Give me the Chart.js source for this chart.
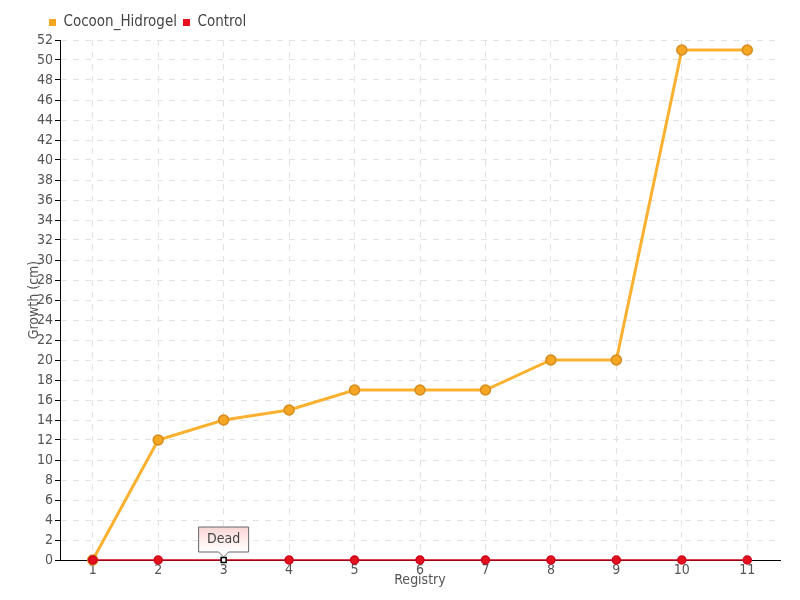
<!DOCTYPE html>
<html>
<head>
<meta charset="utf-8">
<script src="https://cdn.jsdelivr.net/npm/chart.js@4/dist/chart.umd.min.js"></script>
<style>
  html, body { margin: 0; padding: 0; background: #fff; }
  #wrap { width: 800px; height: 600px; }
</style>
</head>
<body>
<div id="wrap"><canvas id="chart"></canvas></div>
<script>
const registry = ['1', '2', '3', '4', '5', '6', '7', '8', '9', '10', '11'];
const cocoonHidrogel = [0, 12, 14, 15, 17, 17, 17, 20, 20, 51, 51];
const control = [0, 0, 0, 0, 0, 0, 0, 0, 0, 0, 0];
const notes = [null, null, 'Dead', null, null, null, null, null, null, null, null];

const fontFamily = "'Liberation Sans Narrow', 'DejaVu Sans Condensed', 'Liberation Sans', sans-serif";

// draws the small callout box above a noted point of the Control series
const notePlugin = {
    id: 'notes',
    afterDatasetsDraw(chart) {
        const ctx = chart.ctx;
        const meta = chart.getDatasetMeta(1);
        notes.forEach((txt, i) => {
            if (!txt) return;
            const pt = meta.data[i];
            const w = 50, h = 25;
            const x0 = pt.x - w / 2, y1 = pt.y - 8, y0 = y1 - h;
            ctx.save();
            const grad = ctx.createLinearGradient(0, y0, 0, y1);
            grad.addColorStop(0, '#fbd6d6');
            grad.addColorStop(1, '#ffffff');
            ctx.beginPath();
            ctx.moveTo(x0, y0);
            ctx.lineTo(x0 + w, y0);
            ctx.lineTo(x0 + w, y1);
            ctx.lineTo(pt.x + 5, y1);
            ctx.lineTo(pt.x, y1 + 5);
            ctx.lineTo(pt.x - 5, y1);
            ctx.lineTo(x0, y1);
            ctx.closePath();
            ctx.fillStyle = grad;
            ctx.fill();
            ctx.strokeStyle = '#666';
            ctx.lineWidth = 1;
            ctx.stroke();
            ctx.fillStyle = '#444';
            ctx.font = '14px ' + fontFamily;
            ctx.textAlign = 'center';
            ctx.textBaseline = 'middle';
            ctx.fillText(txt, pt.x, y0 + h / 2);
            ctx.restore();
        });
    }
};

// fixed legend box height, and legend shifted to sit over the y axis
const legendHeight = {
    id: 'legendHeight',
    beforeInit(chart) {
        const fit = chart.legend.fit;
        chart.legend.fit = function () {
            fit.bind(chart.legend)();
            this.height = 40;
        };
        const draw = chart.legend.draw;
        chart.legend.draw = function () {
            chart.ctx.save();
            chart.ctx.translate(43, 9);
            draw.bind(chart.legend)();
            chart.ctx.restore();
        };
    }
};

new Chart(document.getElementById('chart'), {
    type: 'line',
    data: {
        labels: registry,
        datasets: [
            {
                label: 'Cocoon_Hidrogel',
                data: cocoonHidrogel,
                borderColor: '#FBB12F',
                backgroundColor: '#F5A623',
                pointBorderColor: '#D88A1C',
                pointBackgroundColor: '#F5A623',
                borderWidth: 3,
                pointRadius: 5,
                pointBorderWidth: 1.5,
                tension: 0,
                clip: false,
                order: 2
            },
            {
                label: 'Control',
                data: control,
                borderColor: '#D0021B',
                backgroundColor: '#E8101E',
                pointBackgroundColor: control.map((_, i) => notes[i] ? '#ffffff' : '#E3101E'),
                pointBorderColor: control.map((_, i) => notes[i] ? '#000000' : '#D0021B'),
                pointStyle: control.map((_, i) => notes[i] ? 'rect' : 'circle'),
                pointRadius: control.map((_, i) => notes[i] ? 3.5 : 4),
                pointBorderWidth: 1.5,
                borderWidth: 1.5,
                tension: 0,
                clip: false,
                order: 1
            }
        ]
    },
    options: {
        responsive: true,
        maintainAspectRatio: false,
        animation: false,
        layout: { padding: { left: 0, right: 20, top: 0, bottom: 0 } },
        scales: {
            x: {
                offset: true,
                grid: { offset: false, color: '#e2e2e2', drawTicks: false },
                border: { display: true, color: '#000', dash: [6, 6] },
                ticks: { color: '#555', padding: 2, font: { family: fontFamily, size: 14 } },
                title: { display: true, text: 'Registry', color: '#555', padding: { top: 0, bottom: 11 }, font: { family: fontFamily, size: 14 } },
                afterFit(s) { s.height = 40; }
            },
            y: {
                min: 0,
                max: 52,
                ticks: { stepSize: 2, color: '#555', padding: 2, font: { family: fontFamily, size: 14 } },
                grid: { color: '#e2e2e2', tickColor: '#000', tickLength: 5, tickBorderDash: [] },
                border: { display: true, color: '#000', dash: [6, 6] },
                title: { display: true, text: 'Growth (cm)', color: '#555', padding: { top: 26, bottom: 0 }, font: { family: fontFamily, size: 14 } },
                afterFit(s) { s.width = 60; }
            }
        },
        plugins: {
            legend: {
                display: true,
                position: 'top',
                align: 'start',
                labels: {
                    boxWidth: 7,
                    boxHeight: 7,
                    padding: 6,
                    color: '#444',
                    font: { family: fontFamily, size: 15 },
                    sort: (a, b) => a.datasetIndex - b.datasetIndex,
                    generateLabels(chart) {
                        return chart.data.datasets.map((ds, i) => ({
                            text: ds.label,
                            fillStyle: ds.backgroundColor,
                            strokeStyle: ds.backgroundColor,
                            lineWidth: 0,
                            fontColor: '#444',
                            datasetIndex: i,
                            hidden: false
                        }));
                    }
                }
            },
            tooltip: { enabled: false }
        }
    },
    plugins: [notePlugin, legendHeight]
});
</script>
</body>
</html>
